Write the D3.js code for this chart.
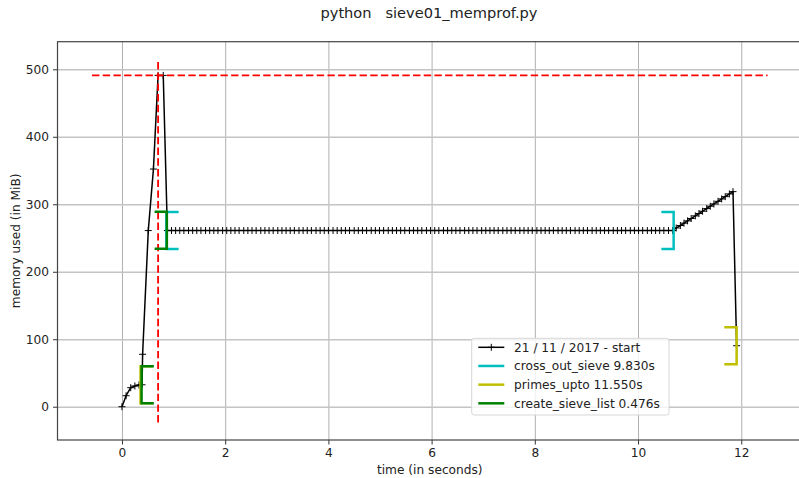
<!DOCTYPE html>
<html>
<head>
<meta charset="utf-8">
<script src="https://cdn.jsdelivr.net/npm/d3@7"></script>
<style>
  body { margin: 0; background: #fff; }
  svg { display: block; font-family: "DejaVu Sans", sans-serif; }
</style>
</head>
<body>
<div id="chart"></div>
<script>
// mprof sample times (s) and memory usage (MiB)
var timeS = [
  0.00, 0.08, 0.17, 0.25, 0.33, 0.39, 0.40, 0.51, 0.61, 0.70, 0.80,
  0.88, 0.96, 1.04, 1.12, 1.20, 1.29, 1.37, 1.45, 1.53, 1.62, 1.70, 1.78, 1.86, 1.95, 2.03, 2.11, 2.19, 2.27, 2.36, 2.44,
  2.52, 2.60, 2.69, 2.77, 2.85, 2.93, 3.02, 3.10, 3.18, 3.26, 3.34, 3.43, 3.51, 3.59, 3.67, 3.76, 3.84, 3.92, 4.00, 4.09,
  4.17, 4.25, 4.33, 4.41, 4.50, 4.58, 4.66, 4.74, 4.83, 4.91, 4.99, 5.07, 5.16, 5.24, 5.32, 5.40, 5.48, 5.57, 5.65, 5.73,
  5.81, 5.90, 5.98, 6.06, 6.14, 6.23, 6.31, 6.39, 6.47, 6.55, 6.64, 6.72, 6.80, 6.88, 6.97, 7.05, 7.13, 7.21, 7.29, 7.38,
  7.46, 7.54, 7.62, 7.71, 7.79, 7.87, 7.95, 8.04, 8.12, 8.20, 8.28, 8.36, 8.45, 8.53, 8.61, 8.69, 8.78, 8.86, 8.94, 9.02,
  9.11, 9.19, 9.27, 9.35, 9.43, 9.52, 9.60, 9.68, 9.76, 9.85, 9.93, 10.01, 10.09, 10.18, 10.26, 10.34, 10.42, 10.50, 10.59, 10.67,
  10.74, 10.82, 10.89, 10.96, 11.03, 11.11, 11.18, 11.25, 11.33, 11.40, 11.47, 11.55, 11.62, 11.69, 11.77, 11.84,
  11.91
];
var memMiB = [
  0.0, 16.3, 28.2, 30.7, 32.2, 32.5, 77.7, 261.0, 352.2, 491.0, 491.0,
  261.1, 261.1, 261.1, 261.1, 261.1, 261.1, 261.1, 261.1, 261.1, 261.1, 261.1, 261.1, 261.1, 261.1, 261.1, 261.1, 261.1, 261.1, 261.1, 261.1,
  261.1, 261.1, 261.1, 261.1, 261.1, 261.1, 261.1, 261.1, 261.1, 261.1, 261.1, 261.1, 261.1, 261.1, 261.1, 261.1, 261.1, 261.1, 261.1, 261.1,
  261.1, 261.1, 261.1, 261.1, 261.1, 261.1, 261.1, 261.1, 261.1, 261.1, 261.1, 261.1, 261.1, 261.1, 261.1, 261.1, 261.1, 261.1, 261.1, 261.1,
  261.1, 261.1, 261.1, 261.1, 261.1, 261.1, 261.1, 261.1, 261.1, 261.1, 261.1, 261.1, 261.1, 261.1, 261.1, 261.1, 261.1, 261.1, 261.1, 261.1,
  261.1, 261.1, 261.1, 261.1, 261.1, 261.1, 261.1, 261.1, 261.1, 261.1, 261.1, 261.1, 261.1, 261.1, 261.1, 261.1, 261.1, 261.1, 261.1, 261.1,
  261.1, 261.1, 261.1, 261.1, 261.1, 261.1, 261.1, 261.1, 261.1, 261.1, 261.1, 261.1, 261.1, 261.1, 261.1, 261.1, 261.1, 261.1, 261.1, 261.1,
  264.9, 268.5, 272.0, 275.4, 278.9, 282.8, 286.3, 289.7, 293.6, 297.1, 300.5, 304.4, 307.9, 311.3, 315.3, 318.7,
  90.4
];

// function brackets: name, colour, start/end time, start/end memory
var fnNames  = ["cross_out_sieve 9.830s", "primes_upto 11.550s", "create_sieve_list 0.476s"];
var fnColors = ["#00bfbf", "#bfbf00", "#008000"];
var fnStart  = [0.86, 0.36, 0.38];
var fnEnd    = [10.69, 11.91, 0.87];
var fnMemStart = [261.1, 32.5, 32.6];
var fnMemEnd   = [261.1, 90.4, 261.5];

// max memory marker
var maxMem = 491.0;
var maxMemTime = 0.70;
var hlineSpan = [-0.58, 12.51];
var vlineSpan = [-24.2, 510.8];

var xTicks = [0, 2, 4, 6, 8, 10, 12];
var yTicks = [0, 100, 200, 300, 400, 500];
var legendStart = "21 / 11 / 2017 - start";

////////////////////////////////////
var W = 799, H = 478;
var pLeft = 57.5, pRight = 802, pTop = 41.7, pBottom = 440;
var fs = "12.2px";

var svg = d3.select("#chart").append("svg")
    .attr("width", W)
    .attr("height", H);

var x = d3.scaleLinear().domain([-1.249, 13.177]).range([pLeft, pRight]);
var y = d3.scaleLinear().domain([-49.3, 540.9]).range([pBottom, pTop]);

svg.append("defs").append("clipPath").attr("id", "clip")
    .append("rect")
    .attr("x", pLeft).attr("y", pTop)
    .attr("width", pRight - pLeft).attr("height", pBottom - pTop);

// grid
var gridX = svg.append("g")
    .attr("transform", "translate(0," + pBottom + ")")
    .call(d3.axisBottom(x).tickValues(xTicks).tickSize(-(pBottom - pTop)).tickFormat(""));
gridX.select(".domain").remove();
gridX.selectAll("line").attr("stroke", "#b0b0b0").attr("stroke-width", 1);

var gridY = svg.append("g")
    .attr("transform", "translate(" + pLeft + ",0)")
    .call(d3.axisLeft(y).tickValues(yTicks).tickSize(-(pRight - pLeft)).tickFormat(""));
gridY.select(".domain").remove();
gridY.selectAll("line").attr("stroke", "#c4c4c4").attr("stroke-width", 1.4);

var plot = svg.append("g").attr("clip-path", "url(#clip)");

// memory line
var line = d3.line()
    .x(function (d, i) { return x(timeS[i]); })
    .y(function (d) { return y(d); });

plot.append("path")
    .datum(memMiB)
    .attr("d", line)
    .attr("fill", "none")
    .attr("stroke", "#000")
    .attr("stroke-width", 1.5)
    .attr("stroke-linejoin", "round");

plot.selectAll("path.mark")
    .data(memMiB)
    .enter()
    .append("path")
    .attr("class", "mark")
    .attr("d", function (d, i) {
        var px = x(timeS[i]), py = y(d);
        return "M" + (px - 3.5) + "," + py + "h7M" + px + "," + (py - 3.5) + "v7";
    })
    .attr("stroke", "#000")
    .attr("stroke-width", 1);

// max memory dashed lines
plot.append("line")
    .attr("x1", x(hlineSpan[0])).attr("x2", x(hlineSpan[1]))
    .attr("y1", y(maxMem)).attr("y2", y(maxMem))
    .attr("stroke", "#ff0000").attr("stroke-width", 1.8)
    .attr("stroke-dasharray", "7.4,3.3");
plot.append("line")
    .attr("x1", x(maxMemTime)).attr("x2", x(maxMemTime))
    .attr("y1", y(vlineSpan[1])).attr("y2", y(vlineSpan[0]))
    .attr("stroke", "#ff0000").attr("stroke-width", 1.8)
    .attr("stroke-dasharray", "7.4,3.3");

// brackets
var hsize = 0.238, vsize = 27.3;
for (let i = 0; i < fnNames.length; i++) {
    var sx = fnStart[i], ex = fnEnd[i];
    var sm = fnMemStart[i], em = fnMemEnd[i];
    plot.append("path")
        .attr("d", "M" + x(sx + hsize) + "," + y(sm + vsize) + "H" + x(sx) + "V" + y(sm - vsize) + "H" + x(sx + hsize))
        .attr("fill", "none").attr("stroke", fnColors[i]).attr("stroke-width", 2.5);
    plot.append("path")
        .attr("d", "M" + x(ex - hsize) + "," + y(em + vsize) + "H" + x(ex) + "V" + y(em - vsize) + "H" + x(ex - hsize))
        .attr("fill", "none").attr("stroke", fnColors[i]).attr("stroke-width", 2.5);
}

// axes
var xAxis = svg.append("g")
    .attr("transform", "translate(0," + pBottom + ")")
    .call(d3.axisBottom(x).tickValues(xTicks).tickSize(4.5).tickPadding(4));
var yAxis = svg.append("g")
    .attr("transform", "translate(" + pLeft + ",0)")
    .call(d3.axisLeft(y).tickValues(yTicks).tickSize(4.5).tickPadding(4));
[xAxis, yAxis].forEach(function (a) {
    a.select(".domain").remove();
    a.selectAll("line").attr("stroke", "#333").attr("stroke-width", 1);
    a.selectAll("text").attr("fill", "#222").style("font-size", fs).style("font-family", "DejaVu Sans");
});

// spines
svg.append("rect")
    .attr("x", pLeft).attr("y", pTop)
    .attr("width", pRight - pLeft).attr("height", pBottom - pTop)
    .attr("fill", "none").attr("stroke", "#444").attr("stroke-width", 1.2);

// labels
svg.append("text")
    .attr("x", (pLeft + pRight) / 2).attr("y", 474)
    .attr("text-anchor", "middle")
    .style("font-size", fs).attr("fill", "#222")
    .text("time (in seconds)");
svg.append("text")
    .attr("transform", "translate(19.5," + ((pTop + pBottom) / 2) + ")rotate(-90)")
    .attr("text-anchor", "middle")
    .style("font-size", fs).attr("fill", "#222")
    .text("memory used (in MiB)");
svg.append("text")
    .attr("x", 429).attr("y", 18)
    .attr("text-anchor", "middle")
    .style("font-size", "14.6px").attr("fill", "#222")
    .style("white-space", "pre")
    .text("python   sieve01_memprof.py");

// legend
var lg = svg.append("g").attr("transform", "translate(471.7,338.3)");
lg.append("rect")
    .attr("width", 197.3).attr("height", 76.7)
    .attr("rx", 2.5)
    .attr("fill", "#fff").attr("fill-opacity", 0.8)
    .attr("stroke", "#d6d6d6").attr("stroke-width", 1);

var lgNames = [legendStart].concat(fnNames);
var lgColors = ["#000"].concat(fnColors);
lgNames.forEach(function (name, i) {
    var ry = 9 + i * 18.67;
    lg.append("line")
        .attr("x1", 6.6).attr("x2", 32.6)
        .attr("y1", ry).attr("y2", ry)
        .attr("stroke", lgColors[i])
        .attr("stroke-width", i == 0 ? 1.5 : 2.5);
    if (i == 0) {
        lg.append("path")
            .attr("d", "M16.1," + ry + "h7M19.6," + (ry - 3.5) + "v7")
            .attr("stroke", "#000").attr("stroke-width", 1);
    }
    lg.append("text")
        .attr("x", 42.3).attr("y", ry)
        .attr("dy", "0.35em")
        .style("font-size", fs).attr("fill", "#222")
        .text(name);
});
</script>
</body>
</html>
